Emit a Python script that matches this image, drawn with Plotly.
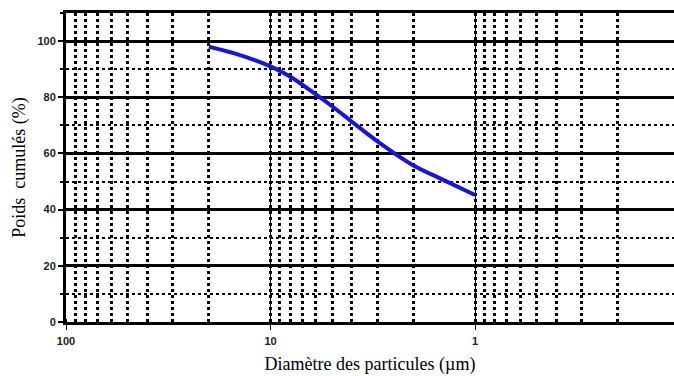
import plotly.graph_objects as go

# diamètre (µm) et poids cumulés (%)
diametre = [20, 15, 10, 8, 6, 5, 4, 3, 2, 1.5, 1]
poids = [98, 95.6, 91, 87.3, 81, 76.8, 71.3, 64.3, 55.7, 51.3, 45.2]

y_ticks = [0, 20, 40, 60, 80, 100]
x_ticks = [100, 10, 1]
x_labels = ['100', '10', '1']

serif = 'Liberation Serif'
sans = 'Liberation Sans'

fig = go.Figure()
fig.add_trace(go.Scatter(x=diametre, y=poids, mode='lines', line=dict(color='#1414e6', width=4, shape='spline')))

fig.update_layout(
    width=674, height=376,
    margin=dict(l=66, r=0, t=13, b=54),
    plot_bgcolor='white', paper_bgcolor='white',
    showlegend=False,
)
fig.update_xaxes(
    type='log', range=[2, -0.973], automargin=False,
    tickvals=x_ticks, ticktext=x_labels,
    tickfont=dict(family=sans, size=11, color='#222', weight='bold'),
    ticks='outside', ticklen=5, tickcolor='black', ticklabelstandoff=2,
    showgrid=True, gridcolor='black', gridwidth=1,
    minor=dict(dtick='D1', showgrid=True, gridcolor='black', gridwidth=2.5, griddash='dot',
               ticks='inside', ticklen=3, tickcolor='black'),
    showline=True, linecolor='black', linewidth=3, mirror=True,
    zeroline=False,
    title=dict(text='Diamètre des particules (µm)', font=dict(family=serif, size=18, color='black'), standoff=12),
)
fig.update_yaxes(
    range=[0, 110], automargin=False,
    tickvals=y_ticks,
    tickfont=dict(family=sans, size=11, color='#222', weight='bold'),
    ticks='outside', ticklen=5, tickwidth=2, tickcolor='black',
    showgrid=True, gridcolor='black', gridwidth=2.5,
    minor=dict(dtick=10, showgrid=True, gridcolor='black', gridwidth=1.5, griddash='dot',
               ticks='outside', ticklen=3, tickcolor='black'),
    showline=True, linecolor='black', linewidth=3,
    zeroline=False,
    title=dict(text='Poids  cumulés (%)', font=dict(family=serif, size=18, color='black'), standoff=8),
)

fig.write_html('out.html', config={'displayModeBar': False},
               post_script="document.body.style.margin='0';")
